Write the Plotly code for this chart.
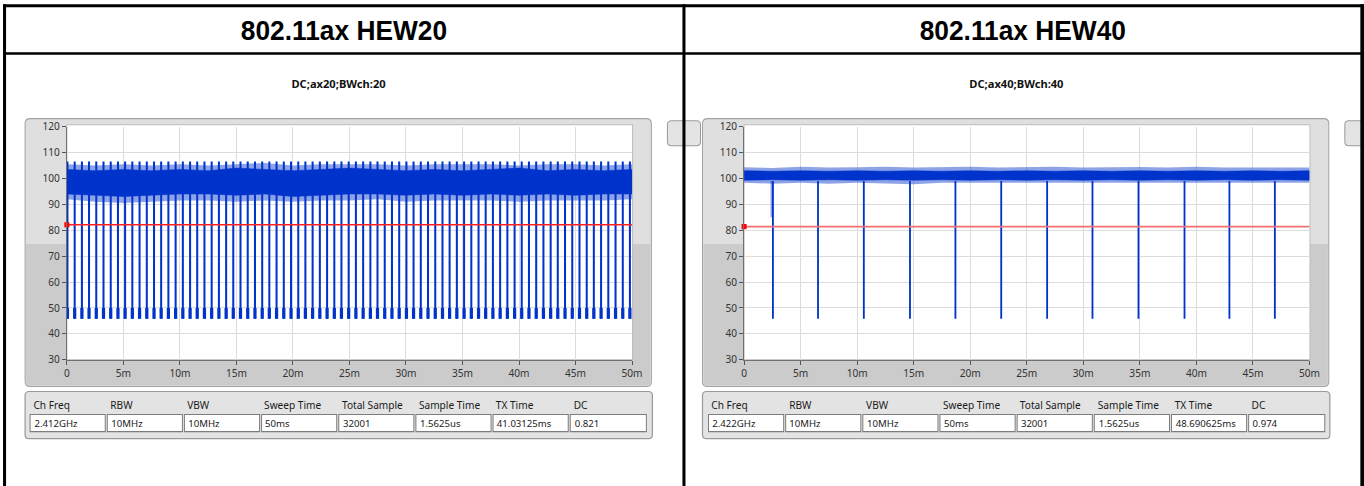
import plotly.graph_objects as go

W, H = 1364, 486

# ---------------- data ----------------
time_tickvals = [0, 5, 10, 15, 20, 25, 30, 35, 40, 45, 50]
time_ticktext = ["0", "5m", "10m", "15m", "20m", "25m", "30m", "35m", "40m", "45m", "50m"]
level_tickvals = [30, 40, 50, 60, 70, 80, 90, 100, 110, 120]

panel_titles = ["802.11ax HEW20", "802.11ax HEW40"]
panel_subtitles = ["DC;ax20;BWch:20", "DC;ax40;BWch:40"]

# HEW20: off-time dips (ms)
hew20_dips = [0.05, 0.69, 1.33, 1.96, 2.60, 3.24, 3.88, 4.52, 5.15, 5.79, 6.43, 7.07,
              7.71, 8.34, 8.98, 9.62, 10.26, 10.90, 11.53, 12.17, 12.81, 13.45, 14.09,
              14.72, 15.36, 16.00, 16.64, 17.28, 17.91, 18.55, 19.19, 19.83, 20.47,
              21.10, 21.74, 22.38, 23.02, 23.66, 24.29, 24.93, 25.57, 26.21, 26.85,
              27.48, 28.12, 28.76, 29.40, 30.04, 30.67, 31.31, 31.95, 32.59, 33.23,
              33.86, 34.50, 35.14, 35.78, 36.42, 37.05, 37.69, 38.33, 38.97, 39.61,
              40.24, 40.88, 41.52, 42.16, 42.80, 43.43, 44.07, 44.71, 45.35, 45.99,
              46.62, 47.26, 47.90, 48.54, 49.18, 49.81]
hew20_env_t = [0, 2.5, 5, 7.5, 10, 12.5, 15, 17.5, 20, 22.5, 25, 27.5, 30, 32.5, 35,
               37.5, 40, 42.5, 45, 47.5, 50]
hew20_upper_peak = [105.5, 105, 105.5, 105, 105.5, 105, 105.5, 106, 105, 105.5, 105.5,
                    105.5, 105, 105.5, 105.5, 105.5, 105, 105.5, 105.5, 105, 105.5]
hew20_upper = [103.5, 103, 103.5, 103, 103.5, 103, 104, 103.5, 103, 103.5, 104, 103.5,
               103, 103.5, 103, 103.5, 104, 103, 103.5, 103, 103.5]
hew20_lower = [94, 93.5, 93, 93.5, 94, 94, 93.5, 94, 93, 93.5, 94, 94, 93.5, 94, 93.5,
               94, 93.5, 94, 93.5, 94, 94]
hew20_lower_peak = [92, 91, 90.5, 91, 91.5, 91.5, 91, 91.5, 91, 91.5, 91.5, 92, 91, 91.5,
                    91.5, 91.5, 91, 91.5, 91.5, 91.5, 92]
hew20_dip_top = 106.5
hew20_dip_foot = 50
hew20_dip_floor = 45.8
hew20_threshold = 82.1

# HEW40: off-time dips (ms)
hew40_dips = [2.55, 6.54, 10.59, 14.67, 18.69, 22.74, 26.80, 30.81, 34.88, 38.95, 42.92, 46.94]
hew40_partial_dip = [2.45]
hew40_partial_floor = 85
hew40_env_t = hew20_env_t
hew40_upper_peak = [104.3, 104, 104.5, 104.2, 104.3, 104.5, 104.2, 104.3, 104.5, 104.2,
                    104.3, 104.5, 104.2, 104.3, 104.4, 104.2, 104.5, 104.2, 104.3, 104.4, 104.2]
hew40_upper = [103, 102.8, 103, 102.8, 103, 102.8, 103, 102.8, 103, 102.8, 103, 102.8,
               103, 102.8, 103, 102.8, 103, 102.8, 103, 102.8, 103]
hew40_lower = [99.3, 99.5, 99.3, 99.5, 99.3, 99.5, 99.3, 99.5, 99.3, 99.5, 99.3, 99.5,
               99.3, 99.5, 99.3, 99.5, 99.3, 99.5, 99.3, 99.5, 99.3]
hew40_lower_peak = [98.3, 98.0, 98.3, 98.0, 98.3, 98.0, 97.8, 98.3, 98.0, 98.3, 98.0,
                    98.3, 98.0, 98.3, 98.0, 98.3, 98.0, 98.3, 98.0, 98.3, 98.3]
hew40_dip_top = 99
hew40_dip_floor = 45.8
hew40_threshold = 81.4

info_labels = ["Ch Freq", "RBW", "VBW", "Sweep Time", "Total Sample", "Sample Time", "TX Time", "DC"]
hew20_info = ["2.412GHz", "10MHz", "10MHz", "50ms", "32001", "1.5625us", "41.03125ms", "0.821"]
hew40_info = ["2.422GHz", "10MHz", "10MHz", "50ms", "32001", "1.5625us", "48.690625ms", "0.974"]

# ---------------- styling / layout helpers ----------------
BLUE = "#0033cc"
BLUE_LIGHT = "rgba(0,51,204,0.45)"
LV_FONT = "Noto Sans"


def px(x):
    return x / W


def py(y):
    return 1 - y / H


def rpath(x0, y0, x1, y1, r=5, r_top=None):
    rt = r if r_top is None else r_top
    pts = []
    pts.append("M%.5f,%.5f" % (px(x0 + rt), py(y0)))
    pts.append("L%.5f,%.5f" % (px(x1 - rt), py(y0)))
    pts.append("Q%.5f,%.5f %.5f,%.5f" % (px(x1), py(y0), px(x1), py(y0 + rt)))
    pts.append("L%.5f,%.5f" % (px(x1), py(y1 - r)))
    pts.append("Q%.5f,%.5f %.5f,%.5f" % (px(x1), py(y1), px(x1 - r), py(y1)))
    pts.append("L%.5f,%.5f" % (px(x0 + r), py(y1)))
    pts.append("Q%.5f,%.5f %.5f,%.5f" % (px(x0), py(y1), px(x0), py(y1 - r)))
    pts.append("L%.5f,%.5f" % (px(x0), py(y0 + rt)))
    pts.append("Q%.5f,%.5f %.5f,%.5f" % (px(x0), py(y0), px(x0 + rt), py(y0)))
    return " ".join(pts) + " Z"


def rshape(x0, y0, x1, y1, fill, line, lw=1, r=5, r_top=None, layer="below"):
    return dict(type="path", xref="paper", yref="paper", path=rpath(x0, y0, x1, y1, r, r_top),
                fillcolor=fill, line=dict(color=line, width=lw), layer=layer)


def rect(x0, y0, x1, y1, fill, line, lw=1, layer="below"):
    return dict(type="rect", xref="paper", yref="paper", x0=px(x0), x1=px(x1),
                y0=py(y1), y1=py(y0), fillcolor=fill, line=dict(color=line, width=lw), layer=layer)


def hline(x0, x1, y, w, color="black"):
    return dict(type="line", xref="paper", yref="paper", x0=px(x0), x1=px(x1), y0=py(y), y1=py(y),
                line=dict(color=color, width=w), layer="above")


def vline(x, y0, y1, w, color="black"):
    return dict(type="line", xref="paper", yref="paper", x0=px(x), x1=px(x), y0=py(y0), y1=py(y1),
                line=dict(color=color, width=w), layer="above")


def text(x, y, s, size, color="#1a1a1a", family=LV_FONT, anchor="left"):
    return dict(xref="paper", yref="paper", x=px(x), y=py(y), text=s, showarrow=False,
                xanchor=anchor, yanchor="middle", font=dict(size=size, color=color, family=family))


def seg_xy(xs, top, bottom):
    X, Y = [], []
    for t in xs:
        X += [t, t, None]
        Y += [top, bottom, None]
    return X, Y


def band(t, up, lo):
    return list(t) + list(t)[::-1], list(up) + list(lo)[::-1]


fig = go.Figure()

# panel geometry (pixels)
panels = [
    dict(off=0, plot=(67.7, 631.7), xa="x", ya="y", xname="xaxis", yname="yaxis"),
    dict(off=676, plot=(743.5, 1307.7), xa="x2", ya="y2", xname="xaxis2", yname="yaxis2"),
]
PLOT_TOP, PLOT_BOT = 126, 358.3

shapes, annotations = [], []

for i, p in enumerate(panels):
    o = p["off"]
    # frame
    shapes.append(rshape(26 + o, 118, 651 + o, 385, "#dfdfdf", "#a3a3a3", 1, r=5))
    shapes.append(rshape(27 + o, 243, 650 + o, 384, "#cbcbcb", "rgba(0,0,0,0)", 0, r=4, r_top=0))
    shapes.append(rect(p["plot"][0], 124, p["plot"][1] + 0.5, PLOT_BOT, "white", "#bdbdbd", 1))
    # side button
    shapes.append(rshape(667 + o, 120, 700 + o, 145, "#e4e4e4", "#9a9a9a", 1, r=4))
    # info box
    shapes.append(rshape(26 + o, 390, 652 + o, 437, "#e3e3e3", "#9a9a9a", 1.2, r=4))
    box_x = [31, 108, 185, 262, 339, 416, 493, 570]
    values = hew20_info if i == 0 else hew40_info
    for k, (lab, val) in enumerate(zip(info_labels, values)):
        bx0 = box_x[k] + o + (1 if i == 1 else 0)
        bx1 = bx0 + 75 if k < 7 else 646 + o + (1 if i == 1 else 0)
        shapes.append(rect(bx0, 413, bx1, 430, "white", "#7d7d7d", 1))
        annotations.append(text(bx0 + 1, 404, lab, 10, "#1a1a1a"))
        annotations.append(text(bx0 + 2, 422, val, 9.5, "#1a1a1a"))
    # titles
    cx = 344.5 if i == 0 else 1022
    annotations.append(text(cx, 30, "<b>%s</b>" % panel_titles[i], 26, "black",
                            "Liberation Sans", "center"))
    scx = 339 if i == 0 else 1015
    annotations.append(text(scx, 83, "<b>%s</b>" % panel_subtitles[i], 11, "#111111",
                            LV_FONT, "center"))

# table borders
shapes += [
    hline(4, 1362, 5.5, 3),
    hline(4, 1362, 53, 2.5),
    vline(5.5, 4, 486, 3),
    vline(683.5, 4, 486, 3),
    vline(1360.5, 4, 486, 4),
]

# ---------------- traces ----------------
datasets = [
    dict(dips=hew20_dips, t=hew20_env_t, upk=hew20_upper_peak, up=hew20_upper, lo=hew20_lower,
         lpk=hew20_lower_peak, dtop=hew20_dip_top, dfloor=hew20_dip_floor, thr=hew20_threshold,
         red="#ff2020"),
    dict(dips=hew40_dips, t=hew40_env_t, upk=hew40_upper_peak, up=hew40_upper, lo=hew40_lower,
         lpk=hew40_lower_peak, dtop=hew40_dip_top, dfloor=hew40_dip_floor, thr=hew40_threshold,
         red="#f27070"),
]

for i, (p, d) in enumerate(zip(panels, datasets)):
    xa, ya = p["xa"], p["ya"]
    bx, by = band(d["t"], d["upk"], d["lpk"])
    fig.add_trace(go.Scatter(x=bx, y=by, fill="toself", fillcolor=BLUE_LIGHT, mode="lines",
                             line=dict(width=0), xaxis=xa, yaxis=ya, hoverinfo="skip"))
    bx, by = band(d["t"], d["up"], d["lo"])
    fig.add_trace(go.Scatter(x=bx, y=by, fill="toself", fillcolor=BLUE, mode="lines",
                             line=dict(width=0.5, color=BLUE), xaxis=xa, yaxis=ya, hoverinfo="skip"))
    sx, sy = seg_xy(d["dips"], d["dtop"], d["dfloor"])
    fig.add_trace(go.Scatter(x=sx, y=sy, mode="lines", line=dict(color=BLUE, width=2 if i == 0 else 1.8),
                             xaxis=xa, yaxis=ya, hoverinfo="skip"))
    if i == 0:
        fx, fy = seg_xy(d["dips"], hew20_dip_foot, d["dfloor"])
        fig.add_trace(go.Scatter(x=fx, y=fy, mode="lines", line=dict(color=BLUE, width=3.2),
                                 xaxis=xa, yaxis=ya, hoverinfo="skip"))
    else:
        fx, fy = seg_xy(hew40_partial_dip, d["dtop"], hew40_partial_floor)
        fig.add_trace(go.Scatter(x=fx, y=fy, mode="lines", line=dict(color=BLUE_LIGHT, width=2.5),
                                 xaxis=xa, yaxis=ya, hoverinfo="skip"))
    fig.add_trace(go.Scatter(x=[0, 50], y=[d["thr"], d["thr"]], mode="lines",
                             line=dict(color=d["red"], width=1.5), xaxis=xa, yaxis=ya, hoverinfo="skip"))
    fig.add_trace(go.Scatter(x=[0], y=[d["thr"]], mode="markers", cliponaxis=False,
                             marker=dict(color="#ff0000", size=5, symbol="square"),
                             xaxis=xa, yaxis=ya, hoverinfo="skip"))

axis_common = dict(showgrid=True, gridcolor="#dcdcdc", gridwidth=1, zeroline=False,
                   showline=True, linecolor="#707070", linewidth=1, ticks="outside",
                   ticklen=4, tickcolor="#555555", fixedrange=True,
                   tickfont=dict(family=LV_FONT, size=10, color="#333333"))

layout_axes = {}
for p in panels:
    layout_axes[p["xname"]] = dict(axis_common, domain=[px(p["plot"][0]), px(p["plot"][1])],
                                   range=[0, 50], tickvals=time_tickvals, ticktext=time_ticktext,
                                   anchor=p["ya"])
    layout_axes[p["yname"]] = dict(axis_common, domain=[py(PLOT_BOT), py(PLOT_TOP)],
                                   range=[30, 120], tickvals=level_tickvals, anchor=p["xa"])

fig.update_layout(
    width=W, height=H, autosize=False,
    margin=dict(l=0, r=0, t=0, b=0),
    paper_bgcolor="white", plot_bgcolor="rgba(0,0,0,0)",
    showlegend=False,
    shapes=shapes, annotations=annotations,
    **layout_axes,
)

# The page is photographed at the size it had with the browser's 8px body margin
# and then fitted to the window; remove the margin and stretch/shift the figure over
# that area so the final picture lines up with the figure's own pixel grid.
post = (
    "document.body.style.margin='0';"
    "document.body.style.overflow='hidden';"
    "var gd=document.getElementsByClassName('plotly-graph-div')[0];"
    "gd.style.transformOrigin='0 0';"
    "gd.style.transform='translate(-4px,-8px) scale(%.6f,%.6f)';" % ((W + 16) / W, (H + 16) / H)
)

fig.write_html("out.html", config={"displayModeBar": False}, post_script=post)
